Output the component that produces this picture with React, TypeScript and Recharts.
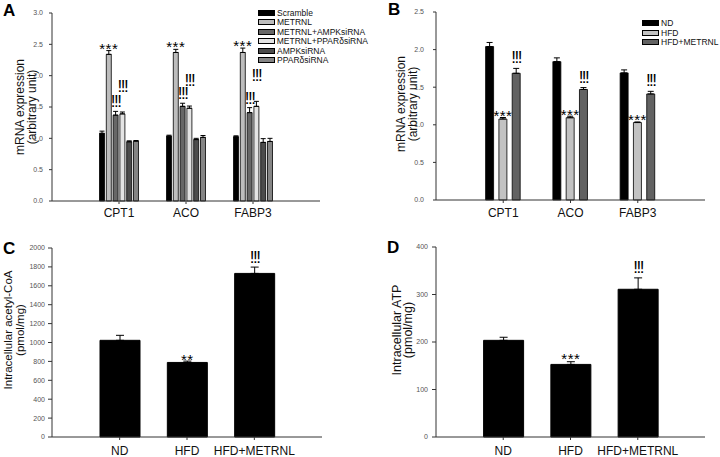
import { Bar, BarChart, ErrorBar, LabelList, Legend, XAxis, YAxis } from 'recharts';

// panel A: siRNA experiment, mRNA of three genes
const genes = ['CPT1', 'ACO', 'FABP3'];
const scramble = [1.08, 1.035, 1.025];
const scrambleErr = [0.035, 0.015, 0.015];
const metrnl = [2.34, 2.37, 2.37];
const metrnlErr = [0.06, 0.05, 0.07];
const metrnlAmpk = [1.37, 1.51, 1.41];
const metrnlAmpkErr = [0.06, 0.05, 0.08];
const metrnlPpar = [1.39, 1.48, 1.51];
const metrnlPparErr = [0.03, 0.035, 0.08];
const ampkSi = [0.945, 0.98, 0.935];
const ampkSiErr = [0.015, 0.02, 0.06];
const pparSi = [0.955, 1.015, 0.95];
const pparSiErr = [0.01, 0.03, 0.05];
const starsA = ['***', '***', '***'];
const bangsA = ['!!!', '!!!', '!!!'];

// panel B: diet groups, mRNA of three genes
const ndGene = [2.04, 1.84, 1.69];
const ndGeneErr = [0.055, 0.05, 0.04];
const hfdGene = [1.077, 1.094, 1.03];
const hfdGeneErr = [0.02, 0.02, 0.008];
const hfdMetrnlGene = [1.685, 1.47, 1.41];
const hfdMetrnlGeneErr = [0.065, 0.025, 0.035];
const starsB = ['***', '***', '***'];
const bangsB = ['!!!', '!!!', '!!!'];

// panels C and D
const groups = ['ND', 'HFD', 'HFD+METRNL'];
const acetylCoA = [1023, 789, 1731];
const acetylCoAErr = [53, 14, 67];
const marksC = ['', '**', '!!!'];
const atp = [203.5, 152.8, 311];
const atpErr = [6.5, 5.7, 24];
const marksD = ['', '***', '!!!'];

const seriesA = [
  { key: 'scr', name: 'Scramble', fill: '#000000', values: scramble, errs: scrambleErr },
  { key: 'met', name: 'METRNL', fill: '#bdbdbd', values: metrnl, errs: metrnlErr },
  { key: 'mAmpk', name: 'METRNL+AMPKsiRNA', fill: '#676767', values: metrnlAmpk, errs: metrnlAmpkErr },
  { key: 'mPpar', name: 'METRNL+PPARδsiRNA', fill: '#e4e4e4', values: metrnlPpar, errs: metrnlPparErr },
  { key: 'ampk', name: 'AMPKsiRNA', fill: '#4c4c4c', values: ampkSi, errs: ampkSiErr },
  { key: 'ppar', name: 'PPARδsiRNA', fill: '#858585', values: pparSi, errs: pparSiErr },
];

const seriesB = [
  { key: 'nd', name: 'ND', fill: '#000000', values: ndGene, errs: ndGeneErr },
  { key: 'hfd', name: 'HFD', fill: '#c2c2c2', values: hfdGene, errs: hfdGeneErr },
  { key: 'hfdM', name: 'HFD+METRNL', fill: '#626262', values: hfdMetrnlGene, errs: hfdMetrnlGeneErr },
];

const rowsA = genes.map((g, i) => {
  const row: any = { gene: g, starA: starsA[i], bangA: bangsA[i] };
  seriesA.forEach((s) => {
    row[s.key] = s.values[i];
    row[s.key + 'Err'] = [0, s.errs[i]];
  });
  return row;
});

const rowsB = genes.map((g, i) => {
  const row: any = { gene: g, starB: starsB[i], bangB: bangsB[i] };
  seriesB.forEach((s) => {
    row[s.key] = s.values[i];
    row[s.key + 'Err'] = [0, s.errs[i]];
  });
  return row;
});

const rowsC = groups.map((g, i) => ({ group: g, v: acetylCoA[i], vErr: [0, acetylCoAErr[i]], mark: marksC[i] }));
const rowsD = groups.map((g, i) => ({ group: g, v: atp[i], vErr: [0, atpErr[i]], mark: marksD[i] }));

// text above the error bar of a bar
const markAbove = (values: number[], errs: number[], shift: number, size: number, spacing = 0) => (p: any) => {
  const t = p.value;
  if (!t) return null;
  const vb = p.viewBox ?? p;
  const i = p.index ?? 0;
  const px = vb.height / values[i];
  const top = vb.y - errs[i] * px;
  return (
    <text x={vb.x + vb.width / 2} y={top + shift} textAnchor="middle" fontSize={size} letterSpacing={spacing} fill="#000">
      {t}
    </text>
  );
};

const yTitle = (lines: string[], xs: number[], cy: number, size: number) => () => (
  <g>
    {lines.map((l, i) => (
      <text key={l} x={xs[i]} y={cy} transform={`rotate(-90 ${xs[i]} ${cy})`} textAnchor="middle" dominantBaseline="central" fontSize={size} fill="#111">
        {l}
      </text>
    ))}
  </g>
);

const legendBox = (items: { name: string; fill: string }[]) => () => (
  <div style={{ fontSize: 8.5, color: '#111', whiteSpace: 'nowrap' }}>
    {items.map((it) => (
      <div key={it.name} style={{ display: 'flex', alignItems: 'center', height: 9.5 }}>
        <span style={{ width: 17, height: 6, background: it.fill, border: '1px solid #000', boxSizing: 'border-box', marginRight: 2 }} />
        <span>{it.name}</span>
      </div>
    ))}
  </div>
);

const axisColor = '#333';
const tickGray = { fontSize: 7, fill: '#555555' };
const catTick = { fontSize: 12, fill: '#111111' };
const bangSize = 17;
const bangSpacing = -1.5;

export default function App() {
  return (
    <div style={{ position: 'absolute', left: 0, top: 0, width: 720, height: 457, background: '#fff', fontFamily: 'Liberation Sans, Arial, sans-serif' }}>
      {/* A */}
      <div style={{ position: 'absolute', left: 0, top: 0 }}>
        <BarChart width={360} height={230} data={rowsA} margin={{ top: 13, right: 40, bottom: 4, left: 12 }} barSize={5} barGap={1.8}>
          <XAxis dataKey="gene" height={25} padding={{ left: 33.5, right: 33.5 }} tickSize={3} tickMargin={4} tick={catTick} stroke={axisColor} />
          <YAxis
            width={40}
            domain={[0, 3]}
            ticks={[0, 0.5, 1, 1.5, 2, 2.5, 3]}
            tickFormatter={(v: number) => v.toFixed(1)}
            tickSize={3}
            tickMargin={6}
            tick={tickGray}
            stroke={axisColor}
            label={{ content: yTitle(['mRNA expression', '(arbitrary unit)'], [20, 32], 107, 12) }}
          />
          <Legend layout="vertical" align="center" verticalAlign="middle" wrapperStyle={{ left: 258, top: 8, width: 110 }} content={legendBox(seriesA)} />
          {seriesA.map((s) => (
            <Bar key={s.key} dataKey={s.key} name={s.name} fill={s.fill} stroke="#000" strokeWidth={0.8} isAnimationActive={false}>
              <ErrorBar dataKey={s.key + 'Err'} width={2.5} strokeWidth={1} stroke="#000" direction="y" isAnimationActive={false} />
              {s.key === 'met' && <LabelList dataKey="starA" content={markAbove(s.values, s.errs, 3, 15, 0.5)} />}
              {s.key === 'mAmpk' && <LabelList dataKey="bangA" content={markAbove(s.values, s.errs, -4, bangSize, bangSpacing)} />}
              {s.key === 'mPpar' && <LabelList dataKey="bangA" content={markAbove(s.values, s.errs, -20, bangSize, bangSpacing)} />}
            </Bar>
          ))}
        </BarChart>
      </div>

      {/* B */}
      <div style={{ position: 'absolute', left: 360, top: 0 }}>
        <BarChart width={360} height={230} data={rowsB} margin={{ top: 12, right: 15, bottom: 5, left: 36 }} barSize={8} barGap={5.3}>
          <XAxis dataKey="gene" height={25} padding={{ left: 33.6, right: 33.6 }} tickSize={3} tickMargin={5} tick={catTick} stroke={axisColor} />
          <YAxis
            width={40}
            domain={[0, 2.5]}
            ticks={[0, 0.5, 1, 1.5, 2, 2.5]}
            tickFormatter={(v: number) => v.toFixed(1)}
            tickSize={3}
            tickMargin={9}
            tick={tickGray}
            stroke={axisColor}
            label={{ content: yTitle(['mRNA expression', '(arbitrary unit)'], [41, 53], 104, 12) }}
          />
          <Legend layout="vertical" align="center" verticalAlign="middle" wrapperStyle={{ left: 282, top: 18.5, width: 80 }} content={legendBox(seriesB)} />
          {seriesB.map((s) => (
            <Bar key={s.key} dataKey={s.key} name={s.name} fill={s.fill} stroke="#000" strokeWidth={0.8} isAnimationActive={false}>
              <ErrorBar dataKey={s.key + 'Err'} width={3} strokeWidth={1} stroke="#000" direction="y" isAnimationActive={false} />
              {s.key === 'hfd' && <LabelList dataKey="starB" content={markAbove(s.values, s.errs, 3.5, 15, 0.5)} />}
              {s.key === 'hfdM' && <LabelList dataKey="bangB" content={markAbove(s.values, s.errs, -5, bangSize, bangSpacing)} />}
            </Bar>
          ))}
        </BarChart>
      </div>

      {/* C */}
      <div style={{ position: 'absolute', left: 0, top: 230 }}>
        <BarChart width={360} height={227} data={rowsC} margin={{ top: 18, right: 38, bottom: 0, left: 12 }} barSize={40}>
          <XAxis dataKey="group" height={20} padding={{ left: 34, right: 34 }} tickSize={3} tickMargin={6} tick={catTick} stroke={axisColor} />
          <YAxis
            width={40}
            domain={[0, 2000]}
            ticks={[0, 200, 400, 600, 800, 1000, 1200, 1400, 1600, 1800, 2000]}
            tickSize={4}
            tickMargin={3}
            tick={tickGray}
            stroke={axisColor}
            label={{ content: yTitle(['Intracellular acetyl-CoA', '(pmol/mg)'], [7.5, 20], 100, 11.5) }}
          />
          <Bar dataKey="v" fill="#000" stroke="#000" isAnimationActive={false}>
            <ErrorBar dataKey="vErr" width={4} strokeWidth={1} stroke="#000" direction="y" isAnimationActive={false} />
            <LabelList
              dataKey="mark"
              content={(p: any) =>
                p.value === '!!!'
                  ? markAbove(acetylCoA, acetylCoAErr, -4, bangSize, bangSpacing)(p)
                  : markAbove(acetylCoA, acetylCoAErr, 3.5, 15, 0.5)(p)
              }
            />
          </Bar>
        </BarChart>
      </div>

      {/* D */}
      <div style={{ position: 'absolute', left: 360, top: 230 }}>
        <BarChart width={360} height={227} data={rowsD} margin={{ top: 17, right: 15, bottom: 0, left: 36 }} barSize={40}>
          <XAxis dataKey="group" height={20} padding={{ left: 33.6, right: 33.6 }} tickSize={3} tickMargin={6} tick={catTick} stroke={axisColor} />
          <YAxis
            width={40}
            domain={[0, 400]}
            ticks={[0, 100, 200, 300, 400]}
            tickSize={4}
            tickMargin={4}
            tick={tickGray}
            stroke={axisColor}
            label={{ content: yTitle(['Intracellular ATP', '(pmol/mg)'], [36.7, 48], 100, 12.5) }}
          />
          <Bar dataKey="v" fill="#000" stroke="#000" isAnimationActive={false}>
            <ErrorBar dataKey="vErr" width={4} strokeWidth={1} stroke="#000" direction="y" isAnimationActive={false} />
            <LabelList
              dataKey="mark"
              content={(p: any) =>
                p.value === '!!!' ? markAbove(atp, atpErr, -5, bangSize, bangSpacing)(p) : markAbove(atp, atpErr, 2, 15, 0.5)(p)
              }
            />
          </Bar>
        </BarChart>
      </div>

      <svg width={720} height={457} style={{ position: 'absolute', left: 0, top: 0, pointerEvents: 'none' }}>
        <text x={3} y={15.5} fontSize={17} fontWeight="bold" fill="#000">A</text>
        <text x={388} y={15} fontSize={17} fontWeight="bold" fill="#000">B</text>
        <text x={3} y={253.5} fontSize={17} fontWeight="bold" fill="#000">C</text>
        <text x={387} y={253} fontSize={17} fontWeight="bold" fill="#000">D</text>
      </svg>
    </div>
  );
}
